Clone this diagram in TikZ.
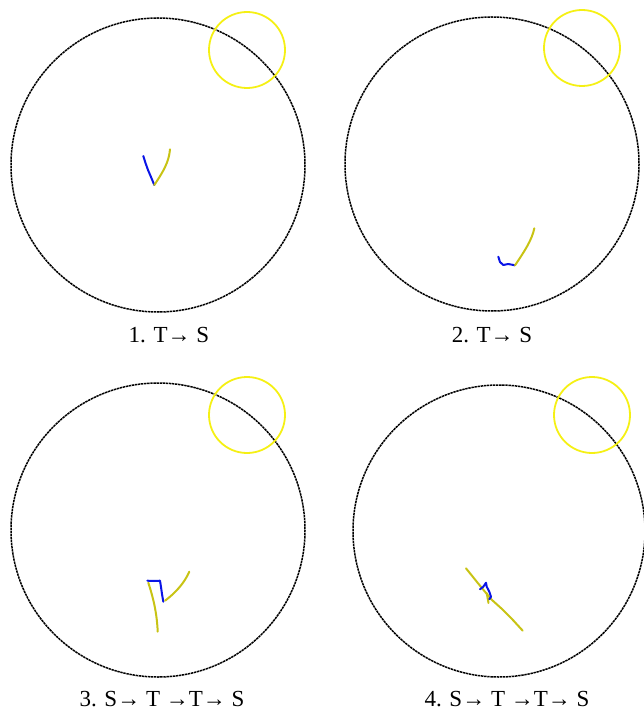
\documentclass[tikz,border=0pt]{standalone}
\usepackage{fontspec}
\setmainfont{Liberation Serif}
\definecolor{ringyellow}{RGB}{245,240,20}
\definecolor{trackyellow}{RGB}{200,195,20}
\definecolor{trackblue}{RGB}{10,20,230}
\tikzset{
  arena/.style={draw=black, line width=1.5pt, dash pattern=on 2.4pt off 0.7pt},
  zone/.style={draw=ringyellow, line width=1.8pt},
  tracky/.style={draw=trackyellow, line width=2pt, line cap=round, line join=round},
  trackb/.style={draw=trackblue, line width=2pt, line cap=round, line join=round},
  caption/.style={font=\fontsize{23}{27}\selectfont, inner sep=0pt}
}
\begin{document}
\begin{tikzpicture}[x=1pt, y=-1pt]
  \useasboundingbox (0,0) rectangle (644,711);
  % panel 1
  \draw[arena] (158,165) circle[radius=147];
  \draw[zone] (247,50) circle[radius=38];
  \draw[trackb] (143.3,156) -- (145.5,163) -- (148,170) -- (151,177) -- (154.3,185);
  \draw[tracky] (154.3,185) .. controls (163,172) and (169,162) .. (170,149.3);
  \node[caption] (cap1) at (169,335) {1. T→ S};
  % panel 2
  \draw[arena] (492,164) circle[radius=147];
  \draw[zone] (582,48) circle[radius=38];
  \draw[trackb] (498.3,256.7) -- (500,262) -- (503.3,265) -- (508.3,264) -- (515,265.3);
  \draw[tracky] (515,265.3) .. controls (524,252) and (532,240) .. (534.3,228.3);
  \node[caption] (cap2) at (492,335) {2. T→ S};
  % panel 3
  \draw[arena] (158,530) circle[radius=147];
  \draw[zone] (247,415) circle[radius=38];
  \draw[tracky] (148.3,582.7) .. controls (154,600) and (157,615) .. (157.7,631.7);
  \draw[trackb] (147.3,580.7) -- (154,581) -- (160,580.7) -- (160.7,585) -- (162,594) -- (163.3,601.7);
  \draw[tracky] (165,600.7) .. controls (174,594) and (184,584) .. (189.3,571.7);
  \node[caption] (cap3) at (162,699) {3. S→ T →T→ S};
  % panel 4
  \draw[arena] (499,531) circle[radius=146];
  \draw[zone] (592,415) circle[radius=38];
  \draw[tracky] (466,568.3) -- (477,582) -- (486,593) -- (492,600) -- (502,609) -- (512,619) -- (522.7,630.7);
  \draw[tracky] (486.7,593) -- (488.5,603);
  \draw[trackb] (480,589.3) -- (483.3,586.7) -- (486,582.7) -- (486.7,586.7) -- (489.3,591.7) -- (491,596.7) -- (489.3,599.3);
  \node[caption] (cap4) at (507,699) {4. S→ T →T→ S};
\end{tikzpicture}
\end{document}
